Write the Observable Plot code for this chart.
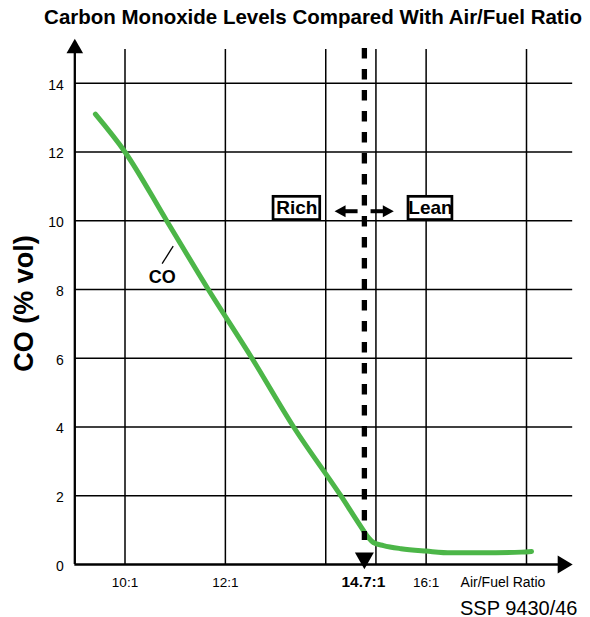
<!DOCTYPE html>
<html><head><meta charset="utf-8">
<script src="https://cdn.jsdelivr.net/npm/d3@7"></script>
<script src="https://cdn.jsdelivr.net/npm/@observablehq/plot@0.6"></script>
<style>
html,body{margin:0;padding:0;background:#fff;}
body{width:590px;height:617px;overflow:hidden;font-family:"Liberation Sans",Arial,Helvetica,sans-serif;}
#title{height:30px;line-height:33px;font-weight:bold;font-size:20.5px;text-align:center;padding-left:36px;box-sizing:border-box;width:590px;white-space:nowrap;color:#000;}
#chart svg{display:block;}
</style></head><body>
<div id="title">Carbon Monoxide Levels Compared With Air/Fuel Ratio</div>
<div id="chart"></div>
<script>
// ---- data ----
const afr = [9.41, 10.0, 10.83, 11.66, 12.53, 13.36, 14.3, 14.75, 14.85, 14.95, 15.15, 15.5, 16.0, 16.5, 17.1, 17.9, 18.1];
const co  = [13.1, 12.0, 10.0, 8.0, 6.0, 4.0, 2.0, 0.99, 0.78, 0.64, 0.55, 0.46, 0.39, 0.34, 0.34, 0.36, 0.38];
const yTicks = [0, 2, 4, 6, 8, 10, 12, 14];
const gridX = [10, 12, 14, 15, 16, 18];
const xTickValues = [10, 12, 16];
const xTickLabels = ["10:1", "12:1", "16:1"];
const stoich = 14.7;
const stoichLabel = "14.7:1";
const zones = ["Rich", "Lean"];

const curve = afr.map((x, i) => ({afr: x, co: co[i]}));
const xTicks = xTickValues.map((v, i) => ({v, label: xTickLabels[i]}));

// custom arrowhead symbols (tip at origin)
const sym = (pts) => ({draw(ctx) {
  ctx.moveTo(pts[0][0], pts[0][1]);
  for (const p of pts.slice(1)) ctx.lineTo(p[0], p[1]);
  ctx.closePath();
}});
const upHead = sym([[0,0],[-8.3,14.4],[8.3,14.4]]);
const rightHead = sym([[0,0],[-15,-9],[-15,9]]);
const downMarker = sym([[0,4.7],[-9.5,-12],[9.5,-12]]);
const leftSmall = sym([[0,0],[11,-6],[11,6]]);
const rightSmall = sym([[0,0],[-11,-6],[-11,6]]);

const BLACK = "#000";
const GREEN = "#4cb648";
const one = [0];
const xMin = 9, xMax = 18.92, yTop = 14.98;

const chart = Plot.plot({
  width: 590,
  height: 587,
  marginLeft: 124.5,
  marginRight: 64,
  marginTop: 52.7,
  marginBottom: 53,
  x: {domain: [10, 18], axis: null},
  y: {domain: [0, 14], axis: null},
  style: {fontFamily: '"Liberation Sans", Arial, Helvetica, sans-serif', background: "#fff", color: "#000"},
  marks: [
    // grid
    Plot.ruleY(yTicks.filter(d => d > 0), {y: d => d, x1: xMin, x2: xMax, stroke: BLACK, strokeWidth: 1.5}),
    Plot.ruleX(gridX, {x: d => d, y1: 0, y2: yTop, stroke: BLACK, strokeWidth: 1.5}),
    // axes
    Plot.ruleX(one, {x: xMin, y1: 0, y2: 14.9, stroke: BLACK, strokeWidth: 2.3}),
    Plot.ruleY(one, {y: 0, x1: xMin, x2: 18.65, stroke: BLACK, strokeWidth: 2.4}),
    Plot.dot(one, {x: xMin, y: 15.29, symbol: upHead, r: 5, fill: BLACK, stroke: "none"}),
    Plot.dot(one, {x: 18.92, y: 0, symbol: rightHead, r: 5, fill: BLACK, stroke: "none"}),
    // y tick labels
    Plot.text(yTicks, {x: xMin, y: d => d, text: d => String(d), textAnchor: "end", dx: -11, dy: 2, fontSize: 14, fill: BLACK}),
    // x tick labels
    Plot.text(xTicks, {x: "v", y: 0, text: "label", dy: 18, fontSize: 13.5, fill: BLACK}),
    Plot.text([stoichLabel], {x: stoich, y: 0, text: d => d, dy: 18, dx: 2.5, fontSize: 15.5, fontWeight: "bold", fill: BLACK}),
    Plot.text(["Air/Fuel Ratio"], {frameAnchor: "bottom-right", text: d => d, textAnchor: "middle", lineAnchor: "middle", dx: -23.5, dy: 18, fontSize: 14, fill: BLACK}),
    // y label
    Plot.text(["CO (% vol)"], {frameAnchor: "left", text: d => d, rotate: -90, textAnchor: "middle", lineAnchor: "middle", dx: -101, dy: -20.3, fontSize: 27, fontWeight: "bold", fill: BLACK}),
    // caption
    Plot.text(["SSP 9430/46"], {frameAnchor: "bottom-right", text: d => d, textAnchor: "end", lineAnchor: "bottom", dx: 51, dy: 50, fontSize: 20, fill: BLACK}),
    // CO curve
    Plot.line(curve, {x: "afr", y: "co", stroke: GREEN, strokeWidth: 5, curve: "monotone-x"}),
    // curve label
    Plot.link(one, {x1: 10.74, y1: 8.75, x2: 10.96, y2: 9.26, stroke: BLACK, strokeWidth: 1.3}),
    Plot.text(["CO"], {x: 10.74, y: 8.36, text: d => d, fontSize: 18, fontWeight: "bold", fill: BLACK}),
    // stoichiometric dashed line and marker
    Plot.ruleX([stoich], {x: d => d, y1: 15.01, y2: 0.7, dx: 3.5, stroke: BLACK, strokeWidth: 5.3, strokeDasharray: "10.5,10.5"}),
    Plot.dot([stoich], {x: d => d, y: 0, dx: 3.5, symbol: downMarker, r: 5, fill: BLACK, stroke: "none"}),
    // rich / lean arrows
    Plot.link(one, {x1: 14.634, x2: 14.35, y1: 10.276, y2: 10.276, stroke: BLACK, strokeWidth: 4}),
    Plot.dot(one, {x: 14.176, y: 10.276, symbol: leftSmall, r: 5, fill: BLACK, stroke: "none"}),
    Plot.link(one, {x1: 14.893, x2: 15.18, y1: 10.276, y2: 10.276, stroke: BLACK, strokeWidth: 4}),
    Plot.dot(one, {x: 15.356, y: 10.276, symbol: rightSmall, r: 5, fill: BLACK, stroke: "none"}),
    // rich / lean boxes
    Plot.rect(one, {x1: 12.96, x2: 13.89, y1: 10.02, y2: 10.695, fill: "#fff", stroke: BLACK, strokeWidth: 2.7}),
    Plot.rect(one, {x1: 15.649, x2: 16.524, y1: 10.02, y2: 10.695, fill: "#fff", stroke: BLACK, strokeWidth: 2.7}),
    Plot.text([zones[0]], {x: 13.425, y: 10.36, text: d => d, fontSize: 19, fontWeight: "bold", fill: BLACK}),
    Plot.text([zones[1]], {x: 16.087, y: 10.36, text: d => d, fontSize: 19, fontWeight: "bold", fill: BLACK})
  ]
});
document.getElementById("chart").appendChild(chart);
</script>
</body></html>
